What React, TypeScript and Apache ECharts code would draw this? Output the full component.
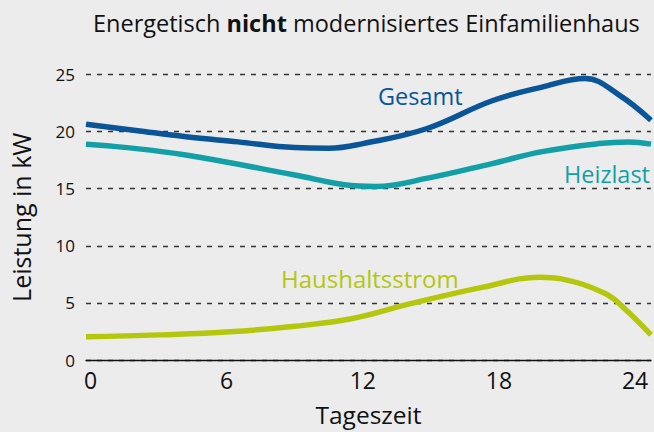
import React, { useEffect, useRef } from "react";
import * as echarts from "echarts";

const xTicks = [0, 6, 12, 18, 24];

const gesamtHours = [-0.2, 2, 4.2, 6.5, 9, 10.5, 12, 14.8, 17.7, 19.9, 21.8, 23.3, 24.7];
const gesamtValues = [20.65, 20.1, 19.55, 19.1, 18.6, 18.55, 18.95, 20.25, 22.7, 23.9, 24.65, 23.2, 21.0];

const heizHours = [-0.2, 1.5, 4.2, 9, 11.2, 12.6, 14.8, 17.7, 19.9, 22.4, 23.7, 24.7];
const heizValues = [18.9, 18.62, 17.95, 16.2, 15.35, 15.2, 15.9, 17.2, 18.25, 18.95, 19.1, 18.9];

const haushaltHours = [-0.2, 3, 6.15, 9, 11.55, 14.1, 17.3, 19.8, 20.75, 22.7, 23.6, 24.7];
const haushaltValues = [2.03, 2.2, 2.47, 2.95, 3.63, 4.93, 6.38, 7.25, 7.1, 5.8, 4.38, 2.2];

const seriesNames = ["Gesamt", "Heizlast", "Haushaltsstrom"];
const seriesColors = ["#0a5597", "#12a0a6", "#b4c70c"];

const FONT = "Open Sans";

const pairs = (xs: number[], ys: number[]) => xs.map((x, i) => [x, ys[i]]);

export default function App() {
  const ref = useRef<HTMLDivElement>(null);
  useEffect(() => {
    if (!ref.current) return;
    const chart = echarts.init(ref.current, undefined, { renderer: "svg" });
    const datasets = [
      pairs(gesamtHours, gesamtValues),
      pairs(heizHours, heizValues),
      pairs(haushaltHours, haushaltValues),
    ];
    chart.setOption({
      animation: false,
      backgroundColor: "#ececec",
      textStyle: { fontFamily: FONT },
      title: {
        text: "{a|Energetisch }{b|nicht}{a| modernisiertes Einfamilienhaus}",
        left: 88,
        top: 6,
        textStyle: {
          rich: {
            a: { fontFamily: FONT, fontSize: 23.5, color: "#111", fontWeight: "normal" },
            b: { fontFamily: FONT, fontSize: 23.5, color: "#111", fontWeight: "bold" },
          },
        },
      },
      grid: { left: 86, right: 3, top: 74.5, bottom: 68.5 },
      xAxis: {
        type: "value",
        min: -0.2,
        max: 24.7,
        name: "Tageszeit",
        nameLocation: "middle",
        nameGap: 42,
        nameTextStyle: { fontFamily: FONT, fontSize: 24.5, color: "#111" },
        axisLine: { show: true, lineStyle: { color: "#111", width: 1.3 } },
        axisTick: { show: false },
        splitLine: { show: false },
        axisLabel: {
          customValues: xTicks,
          fontFamily: FONT,
          fontSize: 23,
          color: "#111",
          margin: 8,
        },
      },
      yAxis: {
        type: "value",
        min: 0,
        max: 25,
        interval: 5,
        name: "Leistung in kW",
        nameLocation: "middle",
        nameGap: 53,
        nameRotate: 90,
        nameTextStyle: { fontFamily: FONT, fontSize: 25, color: "#111" },
        axisLine: { show: false },
        axisTick: { show: false },
        axisLabel: { fontFamily: FONT, fontSize: 17, color: "#111", margin: 11 },
        splitLine: { show: true, lineStyle: { color: "#333", width: 1.4, type: [5, 6] } },
      },
      series: datasets.map((d, i) => ({
        name: seriesNames[i],
        type: "line",
        data: d,
        smooth: 0.4,
        showSymbol: false,
        lineStyle: { color: seriesColors[i], width: 5.5 },
        z: 3 + i,
      })),
      graphic: [
        {
          type: "text",
          left: 378,
          top: 84,
          style: { text: seriesNames[0], fill: seriesColors[0], fontFamily: FONT, fontSize: 23.5 },
        },
        {
          type: "text",
          right: 4,
          top: 162,
          style: { text: seriesNames[1], fill: seriesColors[1], fontFamily: FONT, fontSize: 23.5 },
        },
        {
          type: "text",
          left: 281,
          top: 266,
          style: { text: seriesNames[2], fill: seriesColors[2], fontFamily: FONT, fontSize: 24 },
        },
      ],
    });
    return () => chart.dispose();
  }, []);
  return (
    <div
      ref={ref}
      style={{ position: "fixed", left: 0, top: 0, width: 654, height: 432 }}
    />
  );
}
